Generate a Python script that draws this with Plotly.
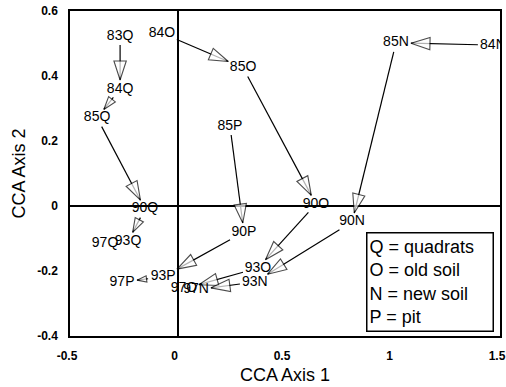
import math
import plotly.graph_objects as go

# ---------------- data (CCA site scores) ----------------
quadrat_labels = ["83Q", "84Q", "85Q", "90Q", "93Q", "97Q"]
quadrat_x = [-0.267, -0.267, -0.374, -0.151, -0.230, -0.337]
quadrat_y = [0.523, 0.360, 0.271, -0.009, -0.108, -0.114]

old_labels = ["84O", "85O", "90O", "93O", "97O"]
old_x = [-0.072, 0.305, 0.644, 0.374, 0.030]
old_y = [0.532, 0.425, 0.006, -0.191, -0.255]

new_labels = ["84N", "85N", "90N", "93N", "97N"]
new_x = [1.467, 1.016, 0.812, 0.360, 0.086]
new_y = [0.495, 0.502, -0.049, -0.234, -0.258]

pit_labels = ["85P", "90P", "93P", "97P"]
pit_x = [0.244, 0.309, -0.067, -0.258]
pit_y = [0.246, -0.080, -0.218, -0.234]

legend_lines = ["Q = quadrats", "O = old soil", "N = new soil", "P = pit"]
x_ticks = [-0.5, 0, 0.5, 1, 1.5]
x_ticktext = ["-0.5", "0", "0.5", "1", "1.5"]
y_ticks = [-0.4, -0.2, 0, 0.2, 0.4, 0.6]
y_ticktext = ["-0.4", "-0.2", "0", "0.2", "0.4", "0.6"]

# ---------------- layout constants ----------------
W, H = 506, 387
ML, MR, MT, MB = 70, 6, 11, 51
X_RANGE = [-0.5, 1.5]
Y_RANGE = [-0.4, 0.6]
PX_X = (W - ML - MR) / (X_RANGE[1] - X_RANGE[0])   # pixels per data unit
PX_Y = (H - MT - MB) / (Y_RANGE[1] - Y_RANGE[0])
FONT = "Liberation Sans, Arial, sans-serif"
HALF_W, HALF_H, MARGIN = 12.5, 6.5, 2.5   # label box used to keep arrows off text
HEAD = 20

series = [
    (quadrat_labels, quadrat_x, quadrat_y),
    (old_labels, old_x, old_y),
    (new_labels, new_x, new_y),
    (pit_labels, pit_x, pit_y),
]


def gap(ux, uy):
    gx = HALF_W / abs(ux) if abs(ux) > 1e-9 else 1e9
    gy = HALF_H / abs(uy) if abs(uy) > 1e-9 else 1e9
    return min(gx, gy) + MARGIN


line_x, line_y = [], []
tip_x, tip_y, tip_ang, tip_size = [], [], [], []
for labels, xs, ys in series:
    for i in range(len(xs) - 1):
        dxp = (xs[i + 1] - xs[i]) * PX_X
        dyp = (ys[i + 1] - ys[i]) * PX_Y
        L = math.hypot(dxp, dyp)
        ux, uy = dxp / L, dyp / L
        g0, g1 = gap(ux, uy), gap(ux, uy)
        seg = L - g0 - g1
        if seg < 4:
            continue
        sx = xs[i] + ux * g0 / PX_X
        sy = ys[i] + uy * g0 / PX_Y
        ex = xs[i + 1] - ux * g1 / PX_X
        ey = ys[i + 1] - uy * g1 / PX_Y
        line_x += [sx, ex, None]
        line_y += [sy, ey, None]
        tip_x.append(ex)
        tip_y.append(ey)
        tip_ang.append(math.degrees(math.atan2(dxp, dyp)))
        tip_size.append(min(HEAD, seg * 0.9))

all_labels = sum([s[0] for s in series], [])
all_x = sum([s[1] for s in series], [])
all_y = sum([s[2] for s in series], [])

fig = go.Figure()
fig.add_trace(go.Scatter(x=line_x, y=line_y, mode="lines",
                         line=dict(color="black", width=1.2),
                         hoverinfo="skip", showlegend=False))
fig.add_trace(go.Scatter(x=tip_x, y=tip_y, mode="markers",
                         marker=dict(symbol="arrow", size=tip_size, angle=tip_ang,
                                     color="white", line=dict(color="black", width=1.1)),
                         hoverinfo="skip", showlegend=False))
fig.add_trace(go.Scatter(x=all_x, y=all_y, mode="text", text=all_labels,
                         textposition="middle center",
                         textfont=dict(family=FONT, size=14, color="black"),
                         showlegend=False))

fig.add_annotation(xref="paper", yref="paper", x=0.688, y=0.012,
                   xanchor="left", yanchor="bottom", align="left",
                   text="<br>".join(legend_lines), showarrow=False,
                   font=dict(family=FONT, size=18, color="black"),
                   bordercolor="black", borderwidth=1.5, borderpad=2,
                   bgcolor="white", width=121, height=93, valign="middle")

axis_common = dict(showgrid=False, zeroline=True, zerolinecolor="black", zerolinewidth=1.5,
                   showline=True, linecolor="black", linewidth=1.5, mirror=True,
                   ticks="", tickfont=dict(family=FONT, size=12, color="black", weight="bold"),
                   ticklabeloverflow="allow", automargin=False)

fig.update_xaxes(range=X_RANGE, tickvals=x_ticks, ticktext=x_ticktext,
                 title=dict(text="CCA Axis 1", font=dict(family=FONT, size=18, color="black"),
                            standoff=6),
                 ticklabelstandoff=8, ticklabelshift=-3, **axis_common)
fig.update_yaxes(range=Y_RANGE, tickvals=y_ticks, ticktext=y_ticktext,
                 title=dict(text="CCA Axis 2", font=dict(family=FONT, size=18, color="black"),
                            standoff=7),
                 ticklabelstandoff=8, **axis_common)

fig.update_layout(width=W, height=H, margin=dict(l=ML, r=MR, t=MT, b=MB, pad=0),
                  plot_bgcolor="white", paper_bgcolor="white", showlegend=False)

# place the figure at the page's top-left corner (no default body margin)
fig.write_html("out.html", config={"displayModeBar": False},
               post_script="document.body.style.margin='0px';")
